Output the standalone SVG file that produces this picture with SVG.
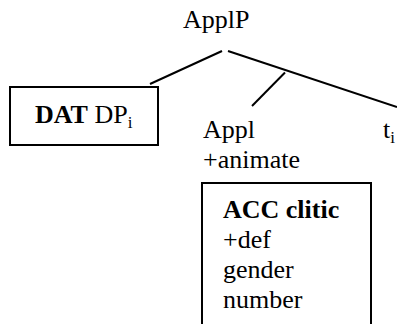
<svg xmlns="http://www.w3.org/2000/svg" width="397" height="324" viewBox="0 0 397 324">
  <style>
    text { font-family: "Liberation Serif", "Times New Roman", serif; font-size: 26px; fill: #000; }
    .b { font-weight: bold; }
    .sub { font-size: 17px; }
    .edge { stroke: #000; stroke-width: 2; fill: none; }
    .box { stroke: #000; stroke-width: 2; fill: #fff; }
  </style>
  <rect width="397" height="324" fill="#fff"/>

  <!-- tree branches -->
  <g id="connectors">
    <line class="edge" x1="222" y1="51" x2="150" y2="84"/>
    <line class="edge" x1="228" y1="51" x2="397" y2="107"/>
    <line class="edge" x1="285" y1="72.5" x2="252" y2="106"/>
  </g>

  <g id="applp">
    <text x="183" y="28">ApplP</text>
  </g>

  <g id="dat-dp">
    <rect class="box" x="10" y="87" width="148" height="58"/>
    <text x="35" y="123"><tspan class="b">DAT</tspan> DP<tspan class="sub" dy="5">i</tspan></text>
  </g>

  <g id="appl">
    <text x="203" y="138">Appl</text>
    <text x="203" y="168">+animate</text>
  </g>

  <g id="trace">
    <text x="383" y="138">t<tspan class="sub" dy="5">i</tspan></text>
  </g>

  <g id="acc-clitic">
    <path class="edge" d="M202,326 V183 H371 V326"/>
    <text x="223" y="218" class="b">ACC clitic</text>
    <text x="223" y="248">+def</text>
    <text x="223" y="278">gender</text>
    <text x="223" y="308">number</text>
  </g>
</svg>
